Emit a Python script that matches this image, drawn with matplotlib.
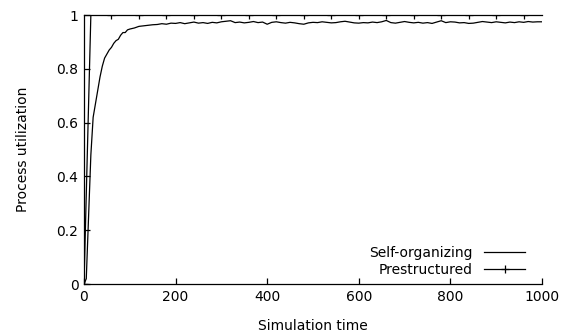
import numpy as np
from matplotlib import pyplot as plt

# self-organizing run
self_t = [0, 5, 10, 15, 20, 25, 30, 35, 40, 45, 50, 55, 60, 65, 70, 75, 80, 85, 90, 95,
          100, 110, 120, 130, 140, 150]
self_u = [0.0, 0.02, 0.25, 0.48, 0.62, 0.67, 0.72, 0.77, 0.81, 0.84, 0.855, 0.87, 0.88,
          0.895, 0.905, 0.91, 0.925, 0.935, 0.935, 0.945, 0.948, 0.952, 0.958, 0.960,
          0.962, 0.964]
self_t += list(range(160, 1001, 10))
self_u += [0.965, 0.968, 0.966, 0.970, 0.969, 0.972, 0.968, 0.971, 0.974, 0.970,
           0.972, 0.969, 0.973, 0.971, 0.975, 0.977, 0.979, 0.972, 0.974, 0.971,
           0.973, 0.976, 0.972, 0.974, 0.966, 0.973, 0.975, 0.972, 0.970, 0.973,
           0.971, 0.968, 0.966, 0.971, 0.973, 0.972, 0.975, 0.973, 0.971, 0.972,
           0.975, 0.977, 0.974, 0.971, 0.970, 0.972, 0.971, 0.974, 0.972, 0.975,
           0.980, 0.972, 0.970, 0.973, 0.976, 0.973, 0.971, 0.973, 0.970, 0.972,
           0.969, 0.974, 0.979, 0.972, 0.975, 0.974, 0.971, 0.972, 0.969, 0.970,
           0.973, 0.976, 0.974, 0.972, 0.975, 0.973, 0.971, 0.974, 0.972, 0.975,
           0.973, 0.976, 0.974, 0.975, 0.975]

# prestructured run
pre_t = [0, 15] + list(range(60, 961, 60)) + [1000]
pre_u = [0, 1] + [1] * 16 + [1]
pre_marks = [0] + list(range(2, 18))

xticks = [0, 200, 400, 600, 800, 1000]
yticks = [0, 0.2, 0.4, 0.6, 0.8, 1]

plt.rcParams['font.family'] = 'DejaVu Sans'
plt.rcParams['font.size'] = 10

fig = plt.figure(figsize=(5.69, 3.35), dpi=100)
ax = fig.add_axes([0.1476, 0.152, 0.8049, 0.803])

ax.plot(self_t, self_u, color='black', lw=0.9, label='Self-organizing')
ax.plot(pre_t, pre_u, color='black', lw=0.9, marker='+', markersize=6,
        markeredgewidth=0.9, markevery=pre_marks, label='Prestructured')

ax.set_xlim(0, 1000)
ax.set_ylim(0, 1)
ax.set_xticks(xticks)
ax.set_xticklabels([str(v) for v in xticks])
ax.set_yticks(yticks)
ax.set_yticklabels(['%g' % v for v in yticks])
ax.tick_params(direction='in', length=4.5, width=0.9, pad=4)
ax.spines['right'].set_visible(False)
for s in ['left', 'bottom', 'top']:
    ax.spines[s].set_linewidth(0.9)

ax.set_xlabel('Simulation time', labelpad=11)
ax.set_ylabel('Process utilization', labelpad=19)

ax.legend(loc='lower right', bbox_to_anchor=(0.985, -0.01), frameon=False,
          markerfirst=False, handlelength=3.0, labelspacing=0.2, borderpad=0.2,
          handletextpad=0.8)

fig.savefig('out.png', dpi=100)
